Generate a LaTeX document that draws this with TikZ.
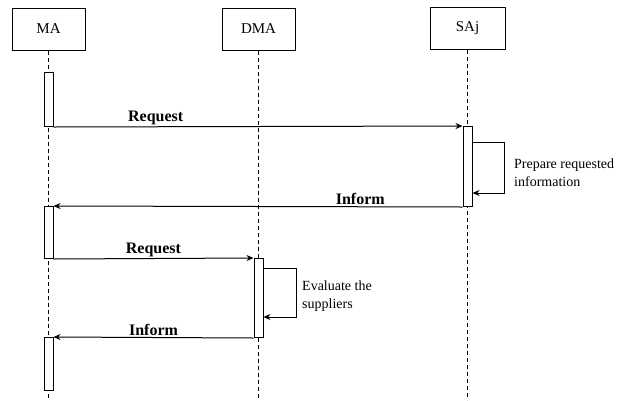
\documentclass[tikz,border=0pt]{standalone}
\usepackage{fontspec}
\setmainfont{Liberation Serif}
\usetikzlibrary{arrows.meta}
\begin{document}
\begin{tikzpicture}[x=1pt,y=-1pt,
  actor/.style={draw, line width=1pt, minimum width=73pt, minimum height=42pt, inner sep=0pt, font=\fontsize{15}{17}\selectfont},
  act/.style={draw, line width=1pt, fill=white, minimum width=9pt, inner sep=0pt, anchor=north},
  life/.style={line width=1pt, dash pattern=on 4pt off 3pt},
  msg/.style={line width=1pt, -{Stealth[length=7pt,width=6pt]}},
  mlabel/.style={font=\bfseries\fontsize{16}{18}\selectfont, anchor=south, inner sep=1.5pt},
  note/.style={font=\fontsize{14}{18}\selectfont, align=left, anchor=west, inner sep=0pt}]
  \useasboundingbox (0,0) rectangle (621,400);
  \coordinate (bottom) at (0,400);

  % participants
  \node[actor] (ma)  at (48.5,29)  {MA};
  \node[actor] (dma) at (258.5,29) {DMA};
  \node[actor, minimum width=75pt] (sa) at (467.5,28.5) {SAj};

  % lifelines
  \draw[life] (ma.south)  -- (ma.south |- bottom);
  \draw[life] (dma.south) -- (dma.south |- bottom);
  \draw[life] (sa.south)  -- (sa.south |- bottom);

  % activation bars
  \node[act, minimum height=54pt] (a1) at (48.5,72) {};
  \node[act, minimum height=80pt] (s1) at (467.5,126) {};
  \node[act, minimum height=52pt] (a2) at (48.5,206) {};
  \node[act, minimum height=79pt] (d1) at (258.5,258) {};
  \node[act, minimum height=53pt] (a3) at (48.5,337) {};

  % messages
  \draw[msg] (a1.south east) -- node[mlabel, pos=0.25] {Request} (s1.north west);
  \draw[msg] (s1.south west) -- node[mlabel, pos=0.25] {Inform} (a2.north east);
  \draw[msg] (a2.south east) -- node[mlabel, pos=0.5] {Request} (d1.north west);
  \draw[msg] (d1.south west) -- node[mlabel, pos=0.5] {Inform} (a3.north east);

  % self calls
  \draw[line width=1pt] ([yshift=-16pt]s1.north east) -- ++(32,0) coordinate (sr1) -- ++(0,51) coordinate (sr2);
  \draw[msg] (sr2) -- ([yshift=-67pt]s1.north east);
  \node[note] (n1) at (514,173) {Prepare requested\\information};

  \draw[line width=1pt] ([yshift=-10pt]d1.north east) -- ++(33,0) coordinate (dr1) -- ++(0,49) coordinate (dr2);
  \draw[msg] (dr2) -- ([yshift=-59pt]d1.north east);
  \node[note] (n2) at (302,296) {Evaluate the\\suppliers};
\end{tikzpicture}
\end{document}
